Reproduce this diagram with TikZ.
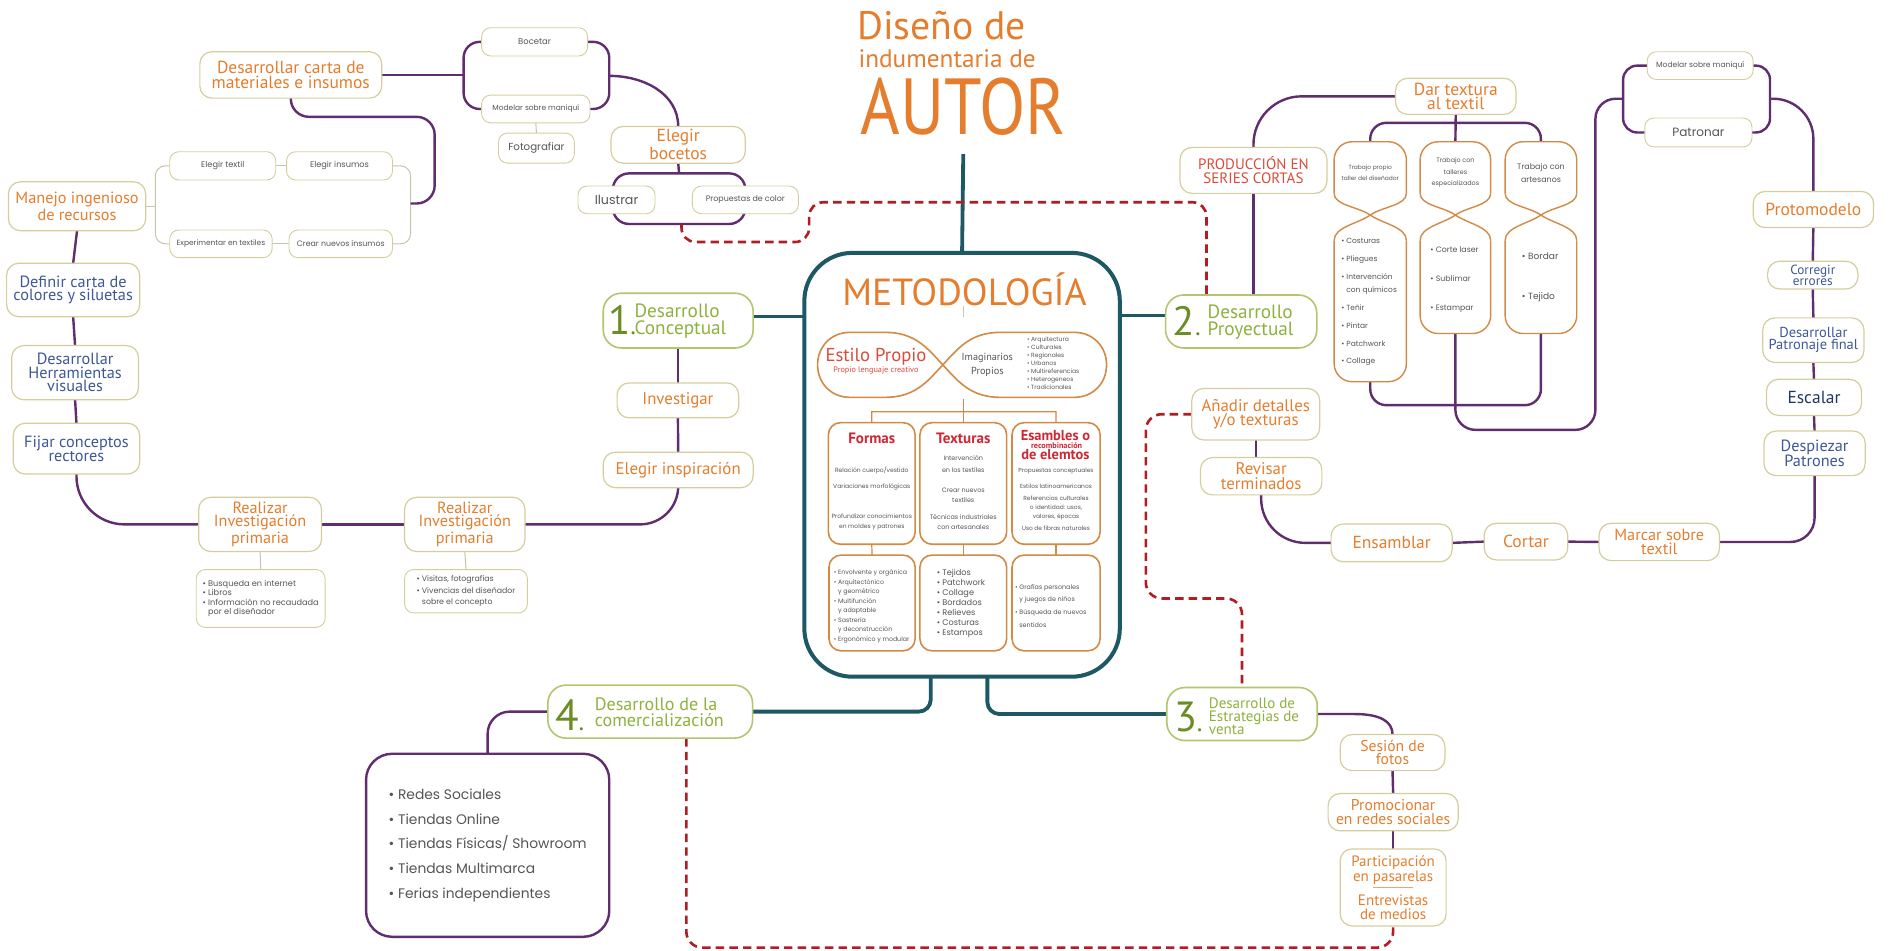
\documentclass[tikz,border=0pt]{standalone}
\usepackage{fontspec}
\usepackage{graphicx}
\usepackage{xfp}
\setmainfont{PT Sans}
\newfontfamily\geo{Poppins}
\pgfdeclarelayer{back}
\pgfdeclarelayer{links}
\pgfsetlayers{back,links,main}

\definecolor{org}{RGB}{228,126,46}
\definecolor{boxc}{RGB}{212,206,158}
\definecolor{grnb}{RGB}{178,198,112}
\definecolor{pur}{RGB}{96,46,110}
\definecolor{tealc}{RGB}{30,88,100}
\definecolor{grn}{RGB}{141,178,62}
\definecolor{grnd}{RGB}{108,140,36}
\definecolor{blu}{RGB}{62,88,150}
\definecolor{navy}{RGB}{32,56,100}
\definecolor{redt}{RGB}{218,76,58}
\definecolor{crim}{RGB}{206,40,52}
\definecolor{brn}{RGB}{210,138,70}
\definecolor{rdash}{RGB}{178,28,34}
\definecolor{gtx}{RGB}{85,85,85}
\definecolor{glc}{RGB}{200,198,170}

% font size and leading given in drawing units (1 unit = 0.6pt)
\newcommand\fs[2]{\fontsize{\fpeval{#1*0.6}pt}{\fpeval{#2*0.6}pt}\selectfont}

% box from corner (x1,y1) to (x2,y2): [style]{name}{x1}{y1}{x2}{y2}{text}
\newcommand\bx[7][box]{%
  \pgfmathsetmacro\bxw{(#5-#3)*0.6}%
  \pgfmathsetmacro\bxh{(#6-#4)*0.6}%
  \node[#1, minimum width=\bxw pt, minimum height=\bxh pt] (#2) at ({(#3+#5)/2},{(#4+#6)/2}) {#7};}

% hourglass frame: {name}{xl}{xr}{ytop}{ycross}{ybottom}
\newcommand\hg[6]{%
  \pgfmathsetmacro\hxm{(#2+#3)/2}%
  \draw[hgl, rounded corners=9pt] (#2,{#5-18}) -- (#2,#4) -- (#3,#4) -- (#3,{#5-18});
  \draw[hgl, rounded corners=9pt] (#2,{#5+21}) -- (#2,#6) -- (#3,#6) -- (#3,{#5+21});
  \draw[hgl] (#2,{#5-18}) .. controls (#2,{#5-8}) and ({\hxm-10},{#5-7}) .. (\hxm,#5)
     .. controls ({\hxm+10},{#5+7}) and (#3,{#5+10}) .. (#3,{#5+21});
  \draw[hgl] (#3,{#5-18}) .. controls (#3,{#5-8}) and ({\hxm+10},{#5-7}) .. (\hxm,#5)
     .. controls ({\hxm-10},{#5+7}) and (#2,{#5+10}) .. (#2,{#5+21});
  \coordinate (#1n) at (\hxm,#4);
  \coordinate (#1s) at (\hxm,#6);}

\tikzset{
  every node/.style={inner sep=0pt, outer sep=0pt, align=center},
  box/.style={draw=boxc, line width=0.6pt, rounded corners=6pt, fill=white},
  sbox/.style={draw=boxc, line width=0.45pt, rounded corners=4.5pt, fill=white, text=gtx},
  nbox/.style={draw=grnb, line width=0.8pt, rounded corners=9pt, fill=white},
  ibox/.style={draw=brn, line width=0.8pt, rounded corners=6pt, fill=white},
  olab/.style={box, text=org},
  blab/.style={box, text=blu},
  pl/.style={draw=pur, line width=1.2pt},
  tl/.style={draw=tealc, line width=1.9pt},
  gl/.style={draw=glc, line width=0.5pt},
  bl/.style={draw=brn, line width=0.6pt},
  rd/.style={draw=rdash, line width=1.3pt, dash pattern=on 4.2pt off 2.6pt},
  hgl/.style={draw=brn, line width=0.7pt},
  tiny/.style={text=gtx},
}

\begin{document}
\begin{tikzpicture}[x=0.6pt,y=-0.6pt]
\begin{pgfonlayer}{back}
\fill[white] (0,0) rectangle (1568,789);
\end{pgfonlayer}
\useasboundingbox (0,0) rectangle (1568,789);

% ---------- title ----------
\node[anchor=base west, text=org, font=\fs{33}{33}] (t1) at (712,33) {Diseño de};
\node[anchor=base west, text=org, font=\fs{21}{21}] (t2) at (713,56) {indumentaria de};
\node[anchor=base west, text=org] (t3) at (715,112) {\resizebox{102pt}{28.2pt}{\fs{60}{60}AUTOR}};
\coordinate (stemtop) at (800,128);

% ---------- central frame ----------
\bx[draw=tealc, line width=2pt, rounded corners=24pt, fill=white]{meto}{668}{210}{930}{562}{}
\node[text=org] (mtit) at (801,240) {\resizebox{121.8pt}{!}{\fs{28}{28}METODOLOGÍA}};
\coordinate (tk1) at (800,254);
\coordinate (tk2) at (800,263);
\draw[gl] (tk1) -- (tk2);

% infinity loop
\draw[bl, line width=0.8pt] (783,303) .. controls (770,289) and (760,276) .. (735,276) -- (706,276)
  .. controls (690,276) and (679,288) .. (679,303) .. controls (679,318) and (690,330) .. (706,330)
  -- (735,330) .. controls (760,330) and (770,317) .. (783,303)
  .. controls (796,289) and (806,276) .. (831,276) -- (892,276)
  .. controls (908,276) and (919,288) .. (919,303) .. controls (919,318) and (908,330) .. (892,330)
  -- (831,330) .. controls (806,330) and (796,317) .. (783,303);
\coordinate (infb) at (800,331);
\node[text=redt, font=\fs{15.5}{15.5}] (estp) at (727.5,296) {Estilo Propio};
\node[text=redt, font=\fs{6.8}{6.8}] (estp2) at (727.5,308) {Propio lenguaje creativo};
\node[text=gtx, font=\fs{8.5}{11}] (imag) at (820,303) {Imaginarios\\Propios};
\node[tiny, align=left, anchor=west, font={\geo\fs{5}{6.57}}] (imlist) at (853,301.5)
  {• Arquitectura\\• Culturales\\• Regionales\\• Urbanos\\• Multireferencias\\• Heterogeneos\\• Tradicionales};

% three columns
\bx[ibox]{fo}{688}{351}{760}{452}{}
\bx[ibox]{tx}{764}{351}{836}{452}{}
\bx[ibox]{es}{840.5}{351}{913.6}{452}{}
\bx[ibox]{fo2}{688.5}{461}{760}{540.5}{}
\bx[ibox]{tx2}{764}{461}{836}{540.5}{}
\bx[ibox]{es2}{840.5}{461}{913.6}{540.5}{}
\draw[bl] (infb) -- (tx.north);
\draw[bl] (fo.north) -- (724,342) -- (877,342) -- (es.north);
\draw[bl] (fo.south) -- (fo2.north);
\draw[bl] (tx.south) -- (tx2.north);
\draw[bl] (es.south) -- (es2.north);

\node[text=crim, font=\bfseries\fs{12.5}{12.5}] (fot1) at (724,364) {Formas};
\node[text=crim, font=\bfseries\fs{12.5}{12.5}] (txt1) at (800,364) {Texturas};
\node[text=crim, font=\bfseries\fs{12}{12}] (est1) at (876.5,361.5) {Esambles o};
\node[text=crim, font=\bfseries\fs{6.8}{6.8}] (est2) at (877.5,369.8) {recombinación};
\node[text=crim, font=\bfseries\fs{12}{12}] (est3) at (876.5,377.6) {de elemtos};

\node[tiny, font={\geo\fs{5}{9}}] (fb1) at (724,391) {Relación cuerpo/vestido};
\node[tiny, font={\geo\fs{5}{9}}] (fb2) at (724,404.5) {Variaciones morfológicas};
\node[tiny, font={\geo\fs{5}{9}}] (fb3) at (724,433.5) {Profundizar conocimientos\\en moldes y patrones};
\node[tiny, font={\geo\fs{5.3}{10}}] (tb1) at (800,385) {Intervención\\en los textiles};
\node[tiny, font={\geo\fs{5.3}{8.5}}] (tb2) at (800,411) {Crear nuevos\\textiles};
\node[tiny, font={\geo\fs{5.3}{9}}] (tb3) at (800,433.5) {Técnicas industriales\\con artesanales};
\node[tiny, font={\geo\fs{4.9}{7.3}}] (eb1) at (877,391) {Propuestas conceptuales};
\node[tiny, font={\geo\fs{4.9}{7.3}}] (eb2) at (877,404) {Estilos latinoamericanos};
\node[tiny, font={\geo\fs{4.9}{7.3}}] (eb3) at (877,422) {Referencias culturales\\o identidad: usos,\\valores, épocas};
\node[tiny, font={\geo\fs{4.9}{7.3}}] (eb4) at (877,439) {Uso de fibras naturales};

\node[tiny, anchor=west, align=left, font={\geo\fs{5.2}{7.86}}] (fl) at (692.5,503.5)
  {• Envolvente y orgánica\\• Arquitectónico\\\phantom{• }y geométrico\\• Multifunción\\\phantom{• }y adaptable\\• Sastrería\\\phantom{• }y deconstrucción\\• Ergonómico y modular};
\node[tiny, anchor=west, align=left, font={\geo\fs{6.8}{8.33}}] (tl2) at (778,501)
  {• Tejidos\\• Patchwork\\• Collage\\• Bordados\\• Relieves\\• Costuras\\• Estampos};
\node[tiny, anchor=west, align=left, font={\geo\fs{5.3}{10.5}}] (el) at (843,503)
  {• Grafías personales\\\phantom{• }y juegos de niños\\• Búsqueda de nuevos\\\phantom{• }sentidos};

% ---------- four stage boxes ----------
\bx[nbox]{n1}{501}{243.5}{625.5}{289}{}
\node[anchor=base west, text=grnd, font=\fs{34}{34}] (n1d) at (505,277.5) {1{\fs{22}{22}.}};
\node[anchor=west, align=left, text=grn, font=\fs{16}{13.8}] (n1w) at (527,266.5) {Desarrollo\\Conceptual};
\bx[nbox]{n2}{968}{245}{1093.6}{289}{}
\node[anchor=base west, text=grnd, font=\fs{34}{34}] (n2d) at (974,279) {2{\fs{22}{22}.}};
\node[anchor=west, align=left, text=grn, font=\fs{16}{13.8}] (n2w) at (1003,267.5) {Desarrollo\\Proyectual};
\bx[nbox]{n3}{969}{571}{1094}{615}{}
\node[anchor=base west, text=grnd, font=\fs{35}{35}] (n3d) at (975,607.5) {3{\fs{22}{22}.}};
\node[anchor=west, align=left, text=grn, font=\fs{12.5}{10.6}] (n3w) at (1004,595) {Desarrollo de\\Estrategias de\\venta};
\bx[nbox]{n4}{455}{569}{625}{613}{}
\node[anchor=base west, text=grnd, font=\fs{36}{36}] (n4d) at (461,606.5) {4{\fs{22}{22}.}};
\node[anchor=west, align=left, text=grn, font=\fs{15}{13}] (n4w) at (494,591.5) {Desarrollo de la\\comercialización};

% ---------- stage 1 branch ----------
\bx[olab, font={\fs{14}{11}}]{inv}{512.5}{318}{613.5}{347}{Investigar}
\bx[olab, font={\fs{14}{11}}]{eip}{501}{375.5}{625.5}{405}{Elegir inspiración}
\bx[olab, font={\fs{13.5}{11.2}}]{ripR}{336}{413}{436}{458}{Realizar\\Investigación\\primaria}
\bx[olab, font={\fs{13.5}{11.2}}]{ripL}{165}{413}{267}{458}{Realizar\\Investigación\\primaria}
\bx[sbox, align=left, font={\geo\fs{6.8}{7.8}}]{lbL}{163}{473}{270}{521}{• Busqueda en internet\\• Libros\\• Información no recaudada\\\phantom{• }por el diseñador}
\bx[sbox, align=left, font={\geo\fs{6.5}{9.5}}]{lbR}{336}{473}{438}{509}{• Visitas, fotografías\\• Vivencias del diseñador\\\phantom{• }sobre el concepto}

\bx[blab, font={\fs{13.5}{11.5}}]{fcr}{11}{351.5}{116}{393.7}{Fijar conceptos\\rectores}
\bx[blab, font={\fs{13.5}{11.2}}]{dhv}{9.7}{287}{115}{332}{Desarrollar\\Herramientas\\visuales}
\bx[blab, font={\fs{13.5}{11.5}}]{dcs}{5.5}{218.6}{116}{263}{Definir carta de\\colores y siluetas}
\bx[olab, font={\fs{13.5}{11.5}}]{mir}{7}{151}{121}{191.6}{Manejo ingenioso\\de recursos}

\bx[sbox, font={\geo\fs{6.8}{7}}]{et}{141}{126}{229}{149.5}{Elegir textil}
\bx[sbox, font={\geo\fs{6.8}{7}}]{ei}{238}{126}{326}{149.5}{Elegir insumos}
\bx[sbox, font={\geo\fs{6.2}{7}}]{ent}{141}{191}{226}{214}{Experimentar en textiles}
\bx[sbox, font={\geo\fs{6.5}{7}}]{cni}{240}{191}{326}{214}{Crear nuevos insumos}

\bx[olab, font={\fs{14.5}{12}}]{dcm}{166}{43}{317}{81.5}{Desarrollar carta de\\materiales e insumos}
\bx[sbox, font={\geo\fs{7}{7}}]{boc}{400}{23}{488}{46.5}{Bocetar}
\bx[sbox, font={\geo\fs{6.2}{7}}]{mod}{400}{79}{490}{102}{Modelar sobre maniquí}
\bx[sbox, font={\geo\fs{8.5}{8.5}}]{fot}{414}{110.5}{477}{135.5}{Fotografiar}
\bx[olab, font={\fs{14.5}{12}}]{eb}{507.5}{105}{619}{135.5}{Elegir\\bocetos}
\bx[draw=pur, line width=1.2pt, rounded corners=8pt]{prect}{509}{144}{619}{186}{}
\bx[sbox, font={\geo\fs{10.5}{10.5}}]{il}{480}{154.5}{544}{177.5}{Ilustrar}
\bx[sbox, font={\geo\fs{6.6}{7}}]{pc}{575}{154.5}{663}{177.5}{Propuestas de color}

% ---------- stage 2 branch ----------
\bx[box, text=redt, font={\fs{12.5}{11.5}}]{prod}{980}{122.4}{1102}{160.6}{PRODUCCIÓN EN\\SERIES CORTAS}
\bx[olab, font={\fs{14.5}{12}}]{dtt}{1159}{65}{1259}{95}{Dar textura\\al textil}

\hg{h1}{1108}{1168}{117.7}{178.6}{317}
\hg{h2}{1179.4}{1238}{117.7}{178.6}{277}
\hg{h3}{1250}{1309.5}{117.7}{178.6}{277}
\node[tiny, font={\geo\fs{4.9}{9}}] (h1t) at (1138,143.5) {Trabajo propio\\taller del diseñador};
\node[tiny, font={\geo\fs{5.3}{9.5}}] (h2t) at (1208.7,143.5) {Trabajo con\\talleres\\especializados};
\node[tiny, font={\geo\fs{6.6}{11}}] (h3t) at (1279.8,143.5) {Trabajo con\\artesanos};
\node[tiny, anchor=west, align=left, font={\geo\fs{6.2}{14.8}}] (h1l) at (1114,251)
  {• Costuras\\• Pliegues\\• Intervención\\[-2.3pt]\phantom{• }con químicos\\• Teñir\\• Pintar\\• Patchwork\\• Collage};
\node[tiny, anchor=west, align=left, font={\geo\fs{6.5}{24}}] (h2l) at (1188,232.5) {• Corte laser\\• Sublimar\\• Estampar};
\node[tiny, anchor=west, align=left, font={\geo\fs{7.5}{33.5}}] (h3l) at (1264,230.5) {• Bordar\\• Tejido};

\bx[sbox, font={\geo\fs{6.3}{7}}]{mm}{1368}{43}{1456}{66}{Modelar sobre maniquí}
\bx[sbox, font={\geo\fs{10}{10}}]{pat}{1366}{98}{1455}{122}{Patronar}
\bx[olab, font={\fs{14.5}{14.5}}]{proto}{1456}{159}{1556}{189}{Protomodelo}
\bx[blab, font={\fs{11}{9}}]{ce}{1468}{217}{1543}{240}{Corregir\\errores}
\bx[blab, font={\fs{12}{10}}]{dpf}{1464}{264}{1548}{301}{Desarrollar\\Patronaje final}
\bx[box, text=navy, font={\fs{14.5}{14.5}}]{esc}{1467}{315}{1546}{345}{Escalar}
\bx[blab, font={\fs{13.5}{12.5}}]{dsp}{1465}{358}{1549}{395}{Despiezar\\Patrones}
\bx[olab, font={\fs{13.5}{11.2}}]{mst}{1328}{434.6}{1428}{465.6}{Marcar sobre\\textil}
\bx[olab, font={\fs{14.5}{14.5}}]{cor}{1232.6}{434.6}{1302}{465}{Cortar}
\bx[olab, font={\fs{14.5}{14.5}}]{ens}{1105.5}{435.2}{1206}{466.5}{Ensamblar}
\bx[olab, font={\fs{14}{12.3}}]{rt}{997}{380}{1097.8}{411}{Revisar\\terminados}
\bx[olab, font={\fs{14}{12.3}}]{ad}{989.8}{322.6}{1096}{365.4}{Añadir detalles\\y/o texturas}

% ---------- stage 3 branch ----------
\bx[olab, font={\fs{13}{11.2}}]{sf}{1113}{610}{1200}{640}{Sesión de\\fotos}
\bx[olab, font={\fs{13}{11.2}}]{prs}{1103}{659}{1211}{690}{Promocionar\\en redes sociales}
\bx[olab, font={\fs{12.5}{11}}]{pep}{1113}{705}{1201}{769}{Participación\\en pasarelas\\[4.2pt]Entrevistas\\de medios}
\draw[org!70, line width=0.4pt] ([xshift=-9.9pt]pep.center) -- ([xshift=9.9pt]pep.center);

% ---------- stage 4 branch ----------
\bx[draw=pur, line width=1.2pt, rounded corners=13pt, fill=white, text=gtx, align=left,
    font={\geo\fs{11.5}{20.5}}]{lst}{304}{626}{506}{778}
  {• Redes Sociales\\• Tiendas Online\\• Tiendas Físicas/ Showroom\\• Tiendas Multimarca\\• Ferias independientes}

% ---------- connectors ----------
\coordinate (rA) at (566,186);
\coordinate (rB) at (672,201);
\coordinate (rC) at (1002,168);
\coordinate (rdA) at (951.6,497);
\coordinate (rbot) at (0,787);
\coordinate (btop) at (1208.5,102);
\coordinate (bbot) at (1208.5,336.5);
\coordinate (mpL) at (1348,82);
\coordinate (mpR) at (1470,82);

\begin{pgfonlayer}{links}
% teal spine
\draw[tl] (stemtop) -- (meto.north);
\draw[tl] ([yshift=2pt]n1.east) -- ([yshift=2pt]n1.east -| meto.west);
\draw[tl] ([yshift=3pt]n2.west) -- ([yshift=3pt]n2.west -| meto.east);
\draw[tl, rounded corners=6pt] ([xshift=-15.6pt]meto.south) |- (n4.east);
\draw[tl, rounded corners=6pt] ([xshift=12.6pt]meto.south) |- (n3.west);

% stage 1
\draw[pl] (n1.south -| inv.north) -- (inv.north);
\draw[pl] (inv.south) -- (eip.north);
\draw[pl, rounded corners=19pt] (eip.south) |- (ripR.east);
\draw[pl] (ripR.west) -- (ripL.east);
\draw[pl, rounded corners=24pt] (ripL.west) -| (fcr.south);
\draw[gl] (ripL.south) -- (lbL.north);
\draw[gl] (ripR.south) -- (lbR.north);
\draw[pl] (fcr.north) -- (dhv.south);
\draw[pl] (dhv.north) -- (dcs.south);
\draw[pl] (dcs.north) -- (mir.south);
\draw[gl] (mir.east) -- ++(8,0);
\draw[gl, rounded corners=5pt] (et.west) -- (129,137.75) -- (129,202.5) -- (ent.west);
\draw[gl, rounded corners=5pt] (ei.east) -- (341,137.75) -- (341,202.5) -- (cni.east);
\draw[gl] (et.east) -- (ei.west);
\draw[gl] (ent.east) -- (cni.west);
\draw[pl, rounded corners=9pt] (dcm.south) -- (241.5,97) -- (361,97) -- (361,169) -- (341,169);
\draw[pl] (dcm.east) -- (385,62.25);
\draw[pl, rounded corners=8pt] (boc.west) -- (385,34.75) -- (385,90.5) -- (mod.west);
\draw[pl, rounded corners=8pt] (boc.east) -- (506,34.75) -- (506,90.5) -- (mod.east);
\draw[gl] (mod.south) -- (fot.north);
\draw[pl] (506,63) .. controls (535,63) and (563.25,78) .. (eb.north);
\draw[pl] (eb.south) -- (prect.north);

% stage 2
\draw[pl] (prod.south) -- (prod.south |- n2.north);
\draw[pl, rounded corners=24pt] (prod.north) |- (dtt.west);
\draw[pl] (dtt.south) -- (h2n);
\draw[pl, rounded corners=8pt] (h1n) |- (btop) -| (h3n);
\draw[pl, rounded corners=8pt] (h1s) |- (bbot) -| (h3s);
\draw[pl, rounded corners=10pt] (h2s) -- (1208.7,357) -- (1325,357) -- (1325,82) -- (mpL);
\draw[pl, rounded corners=7pt] (mm.west) -- (1348,54.5) -- (1348,110) -- (pat.west);
\draw[pl, rounded corners=7pt] (mm.east) -- (1470,54.5) -- (1470,110) -- (pat.east);
\draw[pl, rounded corners=20pt] (mpR) -| (proto.north);
\draw[pl] (proto.south) -- (ce.north);
\draw[pl] (ce.south) -- (dpf.north);
\draw[pl] (dpf.south) -- (esc.north);
\draw[pl] (esc.south) -- (dsp.north);
\draw[pl, rounded corners=12pt] (dsp.south) |- (mst.east);
\draw[pl] (mst.west) -- (cor.east);
\draw[pl] (cor.west) -- (ens.east);
\draw[pl, rounded corners=22pt] (ens.west) -| (rt.south);
\draw[pl] (ad.south) -- (ad.south |- rt.north);

% stage 3
\draw[pl] (n3.east) -- (1125,593) .. controls (1146,593) and (1156.5,599) .. (sf.north);
\draw[pl] (sf.south) -- (prs.north);
\draw[pl] (prs.south) -- (pep.north);

% stage 4
\draw[pl, rounded corners=11pt] (n4.west) -| (lst.north);

% dashed feedback links
\draw[rd, rounded corners=7pt] (rA) |- (rB) |- (rC) -- ([xshift=-17.3pt]n2.north);
\draw[rd, rounded corners=8pt] (ad.west) -| (rdA) -| (n3.north);
\draw[rd, rounded corners=8pt] ([xshift=18pt]n4.south) |- (rbot -| pep.south) -- (pep.south);
\end{pgfonlayer}
\end{tikzpicture}
\end{document}
